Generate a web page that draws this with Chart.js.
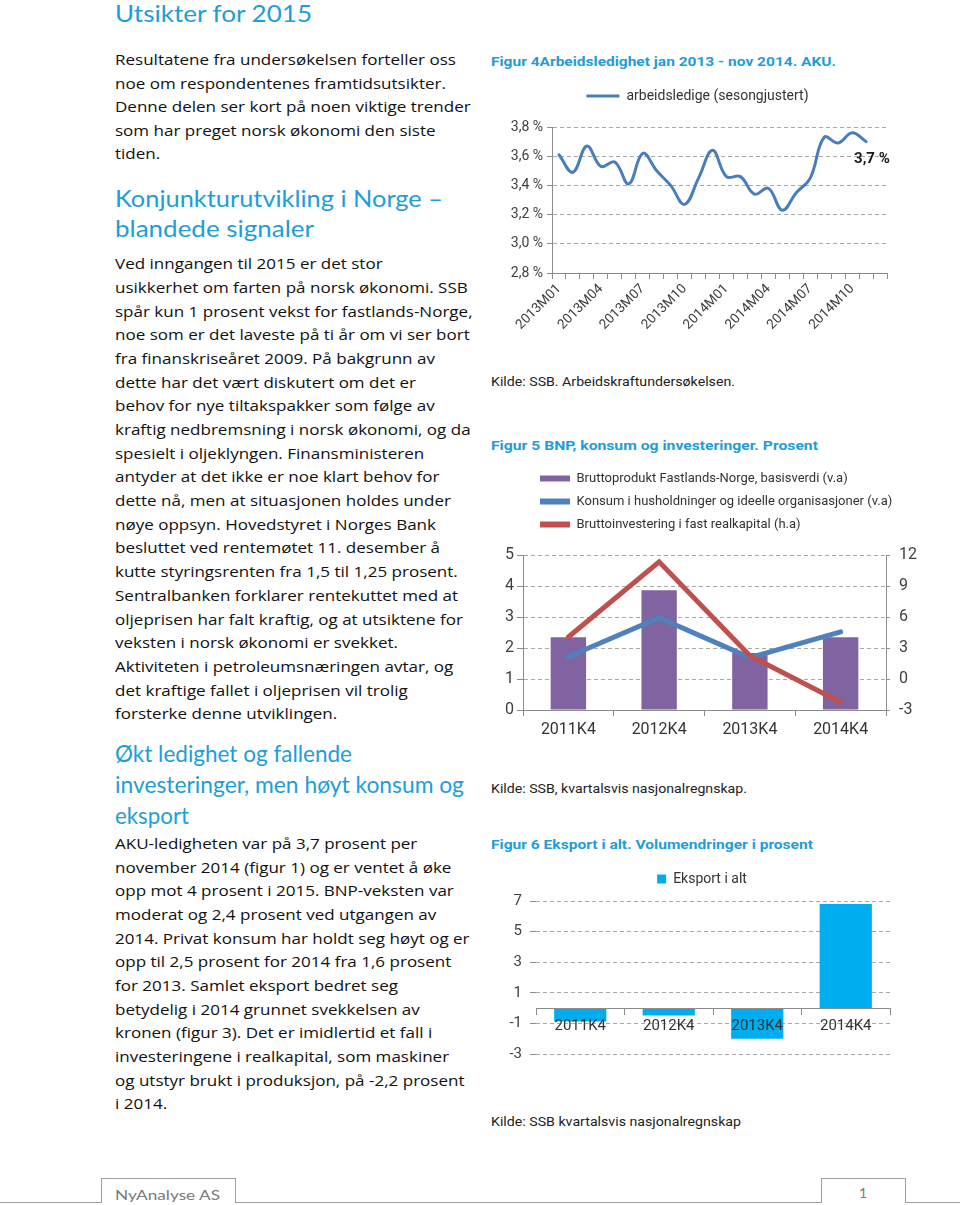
<!DOCTYPE html>
<html><head><meta charset="utf-8">
<script src="https://cdn.jsdelivr.net/npm/chart.js@4.4.1/dist/chart.umd.min.js"></script>
<style>
html,body{margin:0;padding:0;background:#fff;}
body{width:960px;height:1205px;position:relative;overflow:hidden;font-family:"Open Sans",Lato,sans-serif;color:#111;}
.h{position:absolute;left:115px;color:#1E9DD8;font-family:Lato;font-size:24px;white-space:nowrap;}
.h span{display:inline-block;transform-origin:0 50%;}
.p{position:absolute;left:115px;font-size:14.6px;white-space:nowrap;transform-origin:0 0;}
.cap{position:absolute;left:491px;color:#1E9DD8;font-family:Roboto;font-weight:bold;font-size:13px;line-height:18px;white-space:nowrap;transform-origin:0 0;}
.src{position:absolute;left:491px;font-family:Roboto;font-size:12.7px;line-height:18px;color:#222;white-space:nowrap;transform-origin:0 0;}
.cw{position:absolute;}
.ln{position:absolute;border-top:1px solid #a0a0a0;height:0;}
.bx{position:absolute;border:1px solid #a0a0a0;border-bottom:none;}
.ft{position:absolute;font-family:Lato;font-size:14px;color:#7a7a7a;white-space:nowrap;transform-origin:0 0;line-height:16px;}
</style></head><body>

<div class="h" style="top:-2px;line-height:30px;"><span data-w="197">Utsikter for 2015</span></div>
<div class="p" id="p1" style="top:48.3px;line-height:23.5px;">Resultatene fra undersøkelsen forteller oss<br>noe om respondentenes framtidsutsikter.<br>Denne delen ser kort på noen viktige trender<br>som har preget norsk økonomi den siste<br>tiden.</div>
<div class="h" style="top:183px;line-height:30px;"><span data-w="328">Konjunkturutvikling i Norge –</span><br><span data-w="199">blandede signaler</span></div>
<div class="p" id="p2" style="top:252.2px;line-height:23.68px;">Ved inngangen til 2015 er det stor<br>usikkerhet om farten på norsk økonomi. SSB<br>spår kun 1 prosent vekst for fastlands-Norge,<br>noe som er det laveste på ti år om vi ser bort<br>fra finanskriseåret 2009. På bakgrunn av<br>dette har det vært diskutert om det er<br>behov for nye tiltakspakker som følge av<br>kraftig nedbremsning i norsk økonomi, og da<br>spesielt i oljeklyngen. Finansministeren<br>antyder at det ikke er noe klart behov for<br>dette nå, men at situasjonen holdes under<br>nøye oppsyn. Hovedstyret i Norges Bank<br>besluttet ved rentemøtet 11. desember å<br>kutte styringsrenten fra 1,5 til 1,25 prosent.<br>Sentralbanken forklarer rentekuttet med at<br>oljeprisen har falt kraftig, og at utsiktene for<br>veksten i norsk økonomi er svekket.<br>Aktiviteten i petroleumsnæringen avtar, og<br>det kraftige fallet i oljeprisen vil trolig<br>forsterke denne utviklingen.</div>
<div class="h" style="top:736.5px;line-height:31px;"><span data-w="237">Økt ledighet og fallende</span><br><span data-w="349">investeringer, men høyt konsum og</span><br><span data-w="74">eksport</span></div>
<div class="p" id="p3" style="top:832.2px;line-height:23.64px;">AKU-ledigheten var på 3,7 prosent per<br>november 2014 (figur 1) og er ventet å øke<br>opp mot 4 prosent i 2015. BNP-veksten var<br>moderat og 2,4 prosent ved utgangen av<br>2014. Privat konsum har holdt seg høyt og er<br>opp til 2,5 prosent for 2014 fra 1,6 prosent<br>for 2013. Samlet eksport bedret seg<br>betydelig i 2014 grunnet svekkelsen av<br>kronen (figur 3). Det er imidlertid et fall i<br>investeringene i realkapital, som maskiner<br>og utstyr brukt i produksjon, på -2,2 prosent<br>i 2014.</div>

<div class="cap" id="c4" style="top:53px;">Figur 4Arbeidsledighet jan 2013 - nov 2014. AKU.</div>
<div class="src" id="s4" style="top:373px;">Kilde: SSB. Arbeidskraftundersøkelsen.</div>
<div class="cap" id="c5" style="top:437px;">Figur 5 BNP, konsum og investeringer. Prosent</div>
<div class="src" id="s5" style="top:780px;">Kilde: SSB, kvartalsvis nasjonalregnskap.</div>
<div class="cap" id="c6" style="top:836px;">Figur 6 Eksport i alt. Volumendringer i prosent</div>
<div class="src" id="s6" style="top:1113px;">Kilde: SSB kvartalsvis nasjonalregnskap</div>

<div class="cw" style="left:490px;top:80px;width:430px;height:265px;"><canvas id="chart4" width="430" height="265"></canvas></div>
<div class="cw" style="left:490px;top:455px;width:440px;height:300px;"><canvas id="chart5" width="440" height="300"></canvas></div>
<div class="cw" style="left:490px;top:860px;width:430px;height:220px;"><canvas id="chart6" width="430" height="220"></canvas></div>

<div class="ln" style="left:0;top:1202px;width:101px;"></div>
<div class="bx" style="left:101px;top:1178px;width:133px;height:24px;"></div>
<div class="ft" id="ft1" style="left:115px;top:1187px;">NyAnalyse AS</div>
<div class="ln" style="left:235px;top:1202px;width:586px;"></div>
<div class="bx" style="left:821px;top:1178px;width:83px;height:24px;"></div>
<div class="ft" style="left:859px;top:1185px;">1</div>
<div class="ln" style="left:905px;top:1202px;width:55px;"></div>

<script>
// ---------- data ----------
const months = ['2013M01','2013M02','2013M03','2013M04','2013M05','2013M06','2013M07','2013M08','2013M09','2013M10','2013M11','2013M12',
                '2014M01','2014M02','2014M03','2014M04','2014M05','2014M06','2014M07','2014M08','2014M09','2014M10','2014M11','2014M12'];
const unemployment = [3.61,3.49,3.67,3.53,3.56,3.41,3.62,3.50,3.40,3.27,3.45,3.64,
                      3.46,3.46,3.34,3.38,3.23,3.35,3.45,3.73,3.69,3.76,3.70,null];
const unemploymentTicks = [2.8,3.0,3.2,3.4,3.6,3.8];

const quarters = ['2011K4','2012K4','2013K4','2014K4'];
const bnpFastland = [2.35,3.86,1.84,2.35];
const konsum = [1.72,2.98,1.69,2.52];
const investering = [4.06,11.34,2.25,-2.25];

const eksport = [-0.87,-0.48,-2.0,6.8];

// ---------- text fitting ----------
function measure(el, text){
  const s=document.createElement('span');
  const cs=getComputedStyle(el);
  s.style.cssText='position:absolute;visibility:hidden;white-space:nowrap;';
  s.style.fontFamily=cs.fontFamily; s.style.fontSize=cs.fontSize; s.style.fontWeight=cs.fontWeight;
  s.textContent=text; document.body.appendChild(s);
  const w=s.getBoundingClientRect().width; s.remove(); return w;
}
function fitWidth(id, refText, target){
  const el=document.getElementById(id);
  el.style.transform='scaleX('+(target/measure(el,refText)).toFixed(4)+')';
}
document.querySelectorAll('.h span').forEach(sp=>{
  const w=+sp.dataset.w; sp.style.transform='scaleX('+(w/measure(sp,sp.textContent)).toFixed(4)+')';
});
['p1','p2','p3'].forEach(id=>fitWidth(id,'Sentralbanken forklarer rentekuttet med at',343));
fitWidth('c4','Figur 4Arbeidsledighet jan 2013 - nov 2014. AKU.',345);
fitWidth('c5','Figur 5 BNP, konsum og investeringer. Prosent',327);
fitWidth('c6','Figur 6 Eksport i alt. Volumendringer i prosent',322);
fitWidth('s4','Kilde: SSB. Arbeidskraftundersøkelsen.',244);
fitWidth('s5','Kilde: SSB, kvartalsvis nasjonalregnskap.',256);
fitWidth('s6','Kilde: SSB kvartalsvis nasjonalregnskap',250);
fitWidth('ft1','NyAnalyse AS',105);

// ---------- chart helpers ----------
Chart.defaults.font.family='Roboto';
Chart.defaults.color='#404040';
const GRID='#a9a9a9', AXIS='#8c8c8c';

function flatLabels(chart){
  const items=Chart.defaults.plugins.legend.labels.generateLabels(chart);
  items.forEach(it=>{
    const ds=chart.data.datasets[it.datasetIndex];
    const c=ds.legendColor||ds.backgroundColor;
    it.fillStyle=c; it.strokeStyle=c; it.lineWidth=0; it.lineDash=[];
  });
  return items;
}
function legendTweak(extra, dx, fixedLeft){
  return {
    id:'legendTweak',
    afterInit(chart){
      const lg=chart.legend; if(!lg) return;
      const f=lg.fit;
      lg.fit=function(){ f.call(this); this.height+=extra; };
    },
    afterLayout(chart){
      const lg=chart.legend; if(!lg) return;
      if(fixedLeft!=null){ const w=lg.right-lg.left; lg.left=fixedLeft; lg.right=fixedLeft+w; }
      else { lg.left+=dx; lg.right+=dx; }
    }
  };
}
const base={responsive:false,animation:false,events:[],maintainAspectRatio:false};

// ---------- Figure 4 ----------
const lastLabel={
  id:'lastLabel',
  afterDatasetsDraw(chart){
    const ds=chart.data.datasets[0];
    let i=ds.data.length-1; while(ds.data[i]==null) i--;
    const pt=chart.getDatasetMeta(0).data[i];
    const ctx=chart.ctx; ctx.save();
    ctx.font='bold 15px Roboto'; ctx.fillStyle='#1a1a1a'; ctx.textAlign='left'; ctx.textBaseline='middle';
    ctx.fillText(ds.data[i].toFixed(1).replace('.',',')+' %', pt.x-12, pt.y+18);
    ctx.restore();
  }
};
new Chart(document.getElementById('chart4'),{
  type:'line',
  data:{labels:months,datasets:[{label:'arbeidsledige (sesongjustert)',data:unemployment,borderColor:'#4A7EBB',legendColor:'#4A7EBB',
    borderWidth:3,tension:0.4,pointRadius:0,fill:false,borderCapStyle:'round'}]},
  options:Object.assign({},base,{
    layout:{padding:{top:0,right:33,bottom:0,left:0}},
    plugins:{legend:{labels:{boxWidth:33,boxHeight:3,padding:9,font:{size:14},color:'#333',generateLabels:flatLabels}},tooltip:{enabled:false}},
    scales:{
      x:{offset:true,grid:{offset:true,drawOnChartArea:false,tickLength:6,color:AXIS},border:{color:AXIS},
         ticks:{autoSkip:false,minRotation:45,maxRotation:45,font:{size:13.5},padding:2,
           callback(v,i){return i%3===0?this.getLabelForValue(v):'';}},
         afterFit(s){s.height=72;}},
      y:{min:2.8,max:3.8,afterBuildTicks(s){s.ticks=unemploymentTicks.map(v=>({value:v}));},
         ticks:{font:{size:14},padding:4,callback:v=>v.toFixed(1).replace('.',',')+' %'},
         grid:{color:GRID,tickLength:5,tickColor:AXIS},border:{color:AXIS,dash:[4,3]},
         afterFit(s){s.width=62;}}
    }
  }),
  plugins:[legendTweak(14,9,null),lastLabel]
});

// ---------- Figure 5 ----------
new Chart(document.getElementById('chart5'),{
  type:'bar',
  data:{labels:quarters,datasets:[
    {type:'line',label:'Bruttoinvestering i fast realkapital (h.a)',data:investering,yAxisID:'y1',borderColor:'#C0504D',legendColor:'#C0504D',
      borderWidth:5,pointRadius:0,tension:0,order:0,borderCapStyle:'round',fill:false},
    {type:'line',label:'Konsum i husholdninger og ideelle organisasjoner (v.a)',data:konsum,yAxisID:'y',borderColor:'#4F81BD',legendColor:'#4F81BD',
      borderWidth:5,pointRadius:0,tension:0,order:1,borderCapStyle:'round',fill:false},
    {type:'bar',label:'Bruttoprodukt Fastlands-Norge, basisverdi (v.a)',data:bnpFastland,yAxisID:'y',backgroundColor:'#8064A2',
      order:2,barPercentage:0.39,categoryPercentage:1}
  ]},
  options:Object.assign({},base,{
    layout:{padding:{top:7,right:0,bottom:0,left:0}},
    plugins:{legend:{align:'start',reverse:true,labels:{boxWidth:30,boxHeight:6,padding:10,font:{size:13},color:'#333',generateLabels:flatLabels}},tooltip:{enabled:false}},
    scales:{
      x:{grid:{offset:true,drawOnChartArea:false,tickLength:6,color:AXIS},border:{color:AXIS},
         ticks:{font:{size:16},padding:4,color:'#333'},afterFit(s){s.height=45;}},
      y:{position:'left',min:0,max:5,ticks:{stepSize:1,font:{size:16},padding:3},
         grid:{color:GRID,tickLength:6,tickColor:AXIS},border:{color:AXIS,dash:[4,3]},afterFit(s){s.width=33;}},
      y1:{position:'right',min:-3,max:12,ticks:{stepSize:3,font:{size:16},padding:9},
         grid:{drawOnChartArea:false,tickLength:4,color:AXIS},border:{color:AXIS},afterFit(s){s.width=44;}}
    }
  }),
  plugins:[legendTweak(14,0,40)]
});

// ---------- Figure 6 ----------
new Chart(document.getElementById('chart6'),{
  type:'bar',
  data:{labels:quarters,datasets:[{label:'Eksport i alt',data:eksport,backgroundColor:'#00AEEF',barPercentage:0.59,categoryPercentage:1}]},
  options:Object.assign({},base,{
    layout:{padding:{top:2,right:30,bottom:26,left:0}},
    plugins:{legend:{labels:{boxWidth:9,boxHeight:9,padding:10,font:{size:14},color:'#333'}},tooltip:{enabled:false}},
    scales:{
      x:{position:{y:0},grid:{offset:true,drawOnChartArea:false,tickLength:6,color:AXIS,z:1},border:{color:AXIS,z:1},
         ticks:{font:{size:15},padding:3,color:'#333',z:2}},
      y:{min:-3,max:7,ticks:{stepSize:2,font:{size:15},padding:8},
         grid:{color:GRID,tickLength:6,tickColor:AXIS},border:{display:false,dash:[4,3]},afterFit(s){s.width=46;}}
    }
  }),
  plugins:[legendTweak(5,12,null)]
});
</script>
</body></html>
